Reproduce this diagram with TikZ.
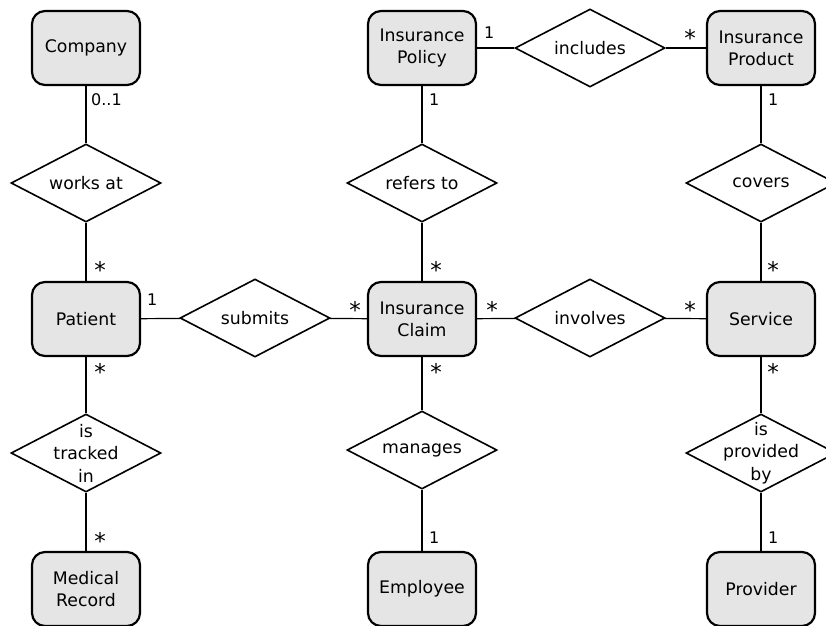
\documentclass[tikz,border=0pt]{standalone}
\usepackage{fontspec}
\setmainfont{DejaVu Sans}
\usetikzlibrary{shapes.geometric}
\begin{document}
\begin{tikzpicture}[x=1pt,y=-1pt,
  entity/.style={draw, line width=2.2pt, rounded corners=13pt, fill=gray!20,
    minimum width=108pt, minimum height=74pt, inner sep=0pt, align=center,
    font=\fontsize{17.3}{22}\selectfont},
  rel/.style={draw, diamond, line width=1.6pt, fill=white, minimum width=150pt,
    minimum height=78pt, inner sep=0pt},
  rtext/.style={align=center, font=\fontsize{17.3}{22.5}\selectfont},
  mult/.style={font=\fontsize{16}{17}\selectfont, inner sep=0pt, anchor=west},
  many/.style={font=\fontsize{23}{24}\selectfont, inner sep=0pt, anchor=north},
  link/.style={line width=1.2pt}]
\useasboundingbox (0,0) rectangle (826,625);
\clip (0,0) rectangle (826,625);

% entities
\node[entity] (company)  at (86,48)  {Company};
\node[entity] (policy)   at (422,48) {Insurance\\Policy};
\node[entity] (product)  at (761,48) {Insurance\\Product};
\node[entity] (patient)  at (86,319) {Patient};
\node[entity] (claim)    at (422,319){Insurance\\Claim};
\node[entity] (service)  at (761,319){Service};
\node[entity] (record)   at (86,589) {Medical\\Record};
\node[entity] (employee) at (422,589){Employee};
\node[entity] (provider) at (761,589){Provider};

% relationships
\node[rel, label={[rtext]center:works at}] (works) at (86,183) {};
\node[rel, label={[rtext]center:refers to}] (refers) at (422,183) {};
\node[rel, label={[rtext]center:covers}] (covers) at (761,183) {};
\node[rel, label={[rtext]center:includes}] (includes) at (590,48) {};
\node[rel, label={[rtext]center:submits}] (submits) at (255,318) {};
\node[rel, label={[rtext]center:involves}] (involves) at (590,318) {};
\node[rel, label={[rtext]center:is\\tracked\\in}] (tracked) at (86,453) {};
\node[rel, label={[rtext]center:manages}] (manages) at (422,450) {};
\node[rel, label={[rtext]center:is\\provided\\by}] (provided) at (761,453) {};

% connectors
\draw[link] (company) -- (works);
\draw[link] (works) -- (patient);
\draw[link] (policy) -- (includes);
\draw[link] (includes) -- (product);
\draw[link] (policy) -- (refers);
\draw[link] (refers) -- (claim);
\draw[link] (product) -- (covers);
\draw[link] (covers) -- (service);
\draw[link] (patient) -- (submits);
\draw[link] (submits) -- (claim);
\draw[link] (claim) -- (involves);
\draw[link] (involves) -- (service);
\draw[link] (patient) -- (tracked);
\draw[link] (tracked) -- (record);
\draw[link] (claim) -- (manages);
\draw[link] (manages) -- (employee);
\draw[link] (service) -- (provided);
\draw[link] (provided) -- (provider);

% multiplicities
\node[mult] (m1) at (91,100) {0..1};
\node[mult] (m2) at (484,33) {1};
\node[mult] (m4) at (429,100) {1};
\node[mult] (m5) at (768,100) {1};
\node[mult] (m9) at (147,300) {1};
\node[mult] (m17) at (429,538) {1};
\node[mult] (m18) at (768,538) {1};
\node[many] (m3)  at (690,29) {*};
\node[many] (m6)  at (100,261) {*};
\node[many] (m7)  at (436,261) {*};
\node[many] (m8)  at (773,261) {*};
\node[many] (m10) at (355,301) {*};
\node[many] (m11) at (492,301) {*};
\node[many] (m12) at (690,301) {*};
\node[many] (m13) at (100,363) {*};
\node[many] (m14) at (436,363) {*};
\node[many] (m15) at (773,363) {*};
\node[many] (m16) at (100,532) {*};
\end{tikzpicture}
\end{document}
